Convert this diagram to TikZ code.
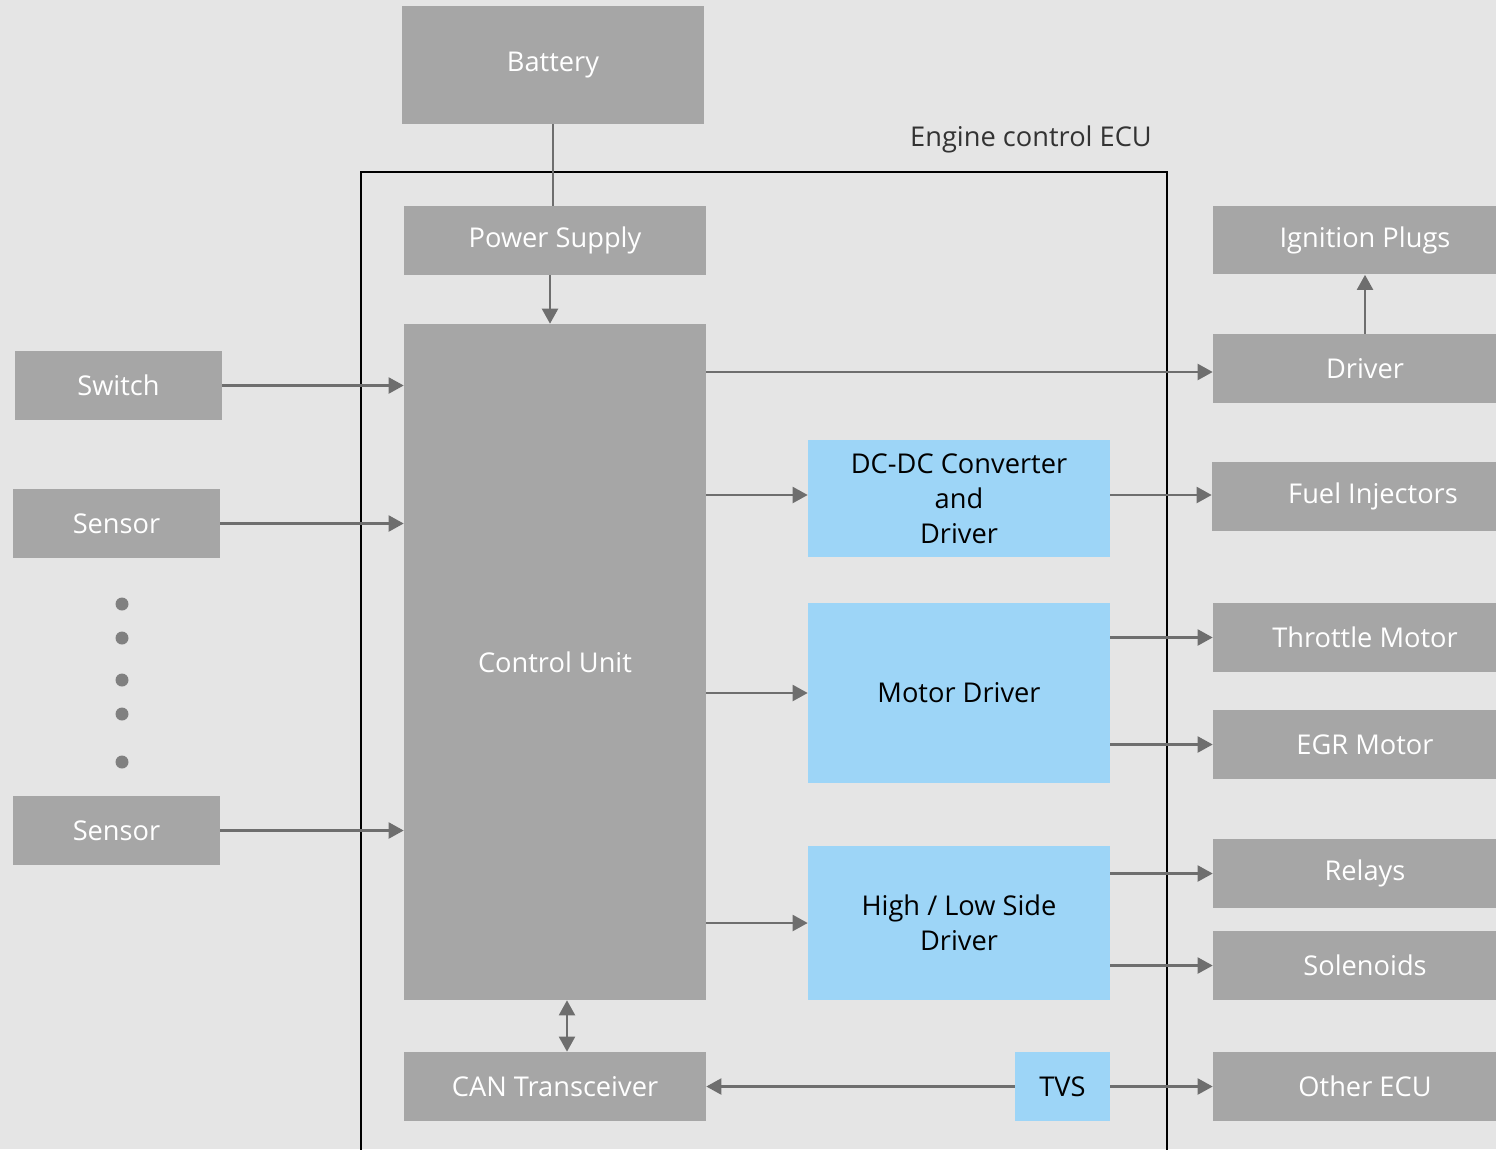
\documentclass[tikz,border=0pt]{standalone}
\usepackage{fontspec}
\setmainfont{Open Sans}
\usetikzlibrary{positioning}
\usetikzlibrary{arrows.meta}
\definecolor{bggray}{HTML}{E5E5E5}
\definecolor{boxgray}{HTML}{A6A6A6}
\definecolor{boxblue}{HTML}{9DD5F7}
\definecolor{linegray}{HTML}{6E6E6E}
\definecolor{dotgray}{HTML}{808080}
\tikzset{
    mynodeg/.style = {rectangle, inner sep=0pt, align=center, fill=boxgray, text=white},
    mynodeb/.style = {rectangle, inner sep=0pt, align=center, fill=boxblue, text=black},
    edgel/.style = {-, line width=1.2pt, linegray}, % plain
    edgen/.style = {-{Triangle[length=0.3cm,width=0.32cm]}, line width=1.2pt, linegray},
    edgedd/.style = {{Triangle[length=0.3cm,width=0.32cm]}-{Triangle[length=0.3cm,width=0.32cm]}, line width=1.2pt, linegray},
    wide/.style = {minimum width=6.04cm, minimum height=1.38cm},
    outbox/.style = {mynodeg, minimum width=6.08cm, minimum height=1.38cm},
    inbox/.style = {mynodeg, minimum width=4.14cm, minimum height=1.38cm},
}

\begin{document}
\begin{tikzpicture}[x=0.02cm, y=-0.02cm,
    font=\fontsize{15.5}{20}\selectfont]

  \fill[bggray] (0,0) rectangle (1496,1149);
  \useasboundingbox (0,0) rectangle (1496,1149);
  \clip (0,0) rectangle (1496,1149);

  % ECU frame
  \draw[line width=1.2pt] (361,1160) -- (361,172) -- (1167,172) -- (1167,1160);
  \node[anchor=base east, text=black!80] (ecu) at (1158,146) {Engine control ECU};

  % inside the ECU
  \node[mynodeg, wide, minimum height=2.36cm] (bat) at (553,65) {Battery};
  \node[mynodeg, wide] (pwr) at (555,240.5) {Power Supply};
  \node[mynodeg, wide, minimum height=13.52cm] (ctrl) at (555,662) {Control Unit};
  \node[mynodeg, wide] (can) at (555,1086.5) {CAN Transceiver};
  \node[mynodeb, wide, minimum height=2.34cm] (dcdc) at (959,498.5) {DC-DC Converter\\and\\Driver};
  \node[mynodeb, wide, minimum height=3.6cm] (mot) at (959,693) {Motor Driver};
  \node[mynodeb, wide, minimum height=3.08cm] (hl) at (959,923) {High / Low Side\\Driver};
  \node[mynodeb, minimum width=1.9cm, minimum height=1.38cm] (tvs) at (1062.5,1086.5) {TVS};

  % inputs
  \node[inbox] (sw) at (118.5,385.5) {Switch};
  \node[inbox] (sen1) at (116.5,523.5) {Sensor};
  \node[inbox] (sen2) at (116.5,830.5) {Sensor};
  \foreach \y in {604,638,680,714,762}
    \fill[dotgray] (122,\y) circle (0.13cm);

  % outputs
  \node[outbox] (ign) at (1365,240) {Ignition Plugs};
  \node[outbox] (drv) at (1365,368.5) {Driver};
  \node[outbox, minimum width=6.44cm] (fuel) at (1373,496.5) {Fuel Injectors};
  \node[outbox] (thr) at (1365,637.5) {Throttle Motor};
  \node[outbox] (egr) at (1365,744.5) {EGR Motor};
  \node[outbox] (rel) at (1365,873.5) {Relays};
  \node[outbox] (sol) at (1365,965.5) {Solenoids};
  \node[outbox] (oth) at (1365,1086.5) {Other ECU};

  % connections
  \draw[edgel] (bat.south) -- (bat.south |- pwr.north);
  \draw[edgen] ([xshift=-0.1cm]pwr.south) -- ([xshift=-0.1cm]ctrl.north);
  \draw[edgen] (sw.east) -- (sw.east -| ctrl.west);
  \draw[edgen] (sen1.east) -- (sen1.east -| ctrl.west);
  \draw[edgen] (sen2.east) -- (sen2.east -| ctrl.west);
  \draw[edgen] ([yshift=-0.07cm]ctrl.east |- drv.west) -- ([yshift=-0.07cm]drv.west);
  \draw[edgen] (drv.north) -- (ign.south);
  \draw[edgen] ([yshift=0.07cm]ctrl.east |- dcdc.west) -- ([yshift=0.07cm]dcdc.west);
  \draw[edgen] ([yshift=0.07cm]dcdc.east) -- ([yshift=0.07cm]dcdc.east -| fuel.west);
  \draw[edgen] (ctrl.east |- mot.west) -- (mot.west);
  \draw[edgen] (mot.east |- thr.west) -- (thr.west);
  \draw[edgen] (mot.east |- egr.west) -- (egr.west);
  \draw[edgen] (ctrl.east |- hl.west) -- (hl.west);
  \draw[edgen] (hl.east |- rel.west) -- (rel.west);
  \draw[edgen] (hl.east |- sol.west) -- (sol.west);
  \draw[edgen] (tvs.west) -- (can.east);
  \draw[edgen] (tvs.east) -- (oth.west);
  \draw[edgedd] ([xshift=0.24cm]can.north) -- ([xshift=0.24cm]ctrl.south);

\end{tikzpicture}
\end{document}
